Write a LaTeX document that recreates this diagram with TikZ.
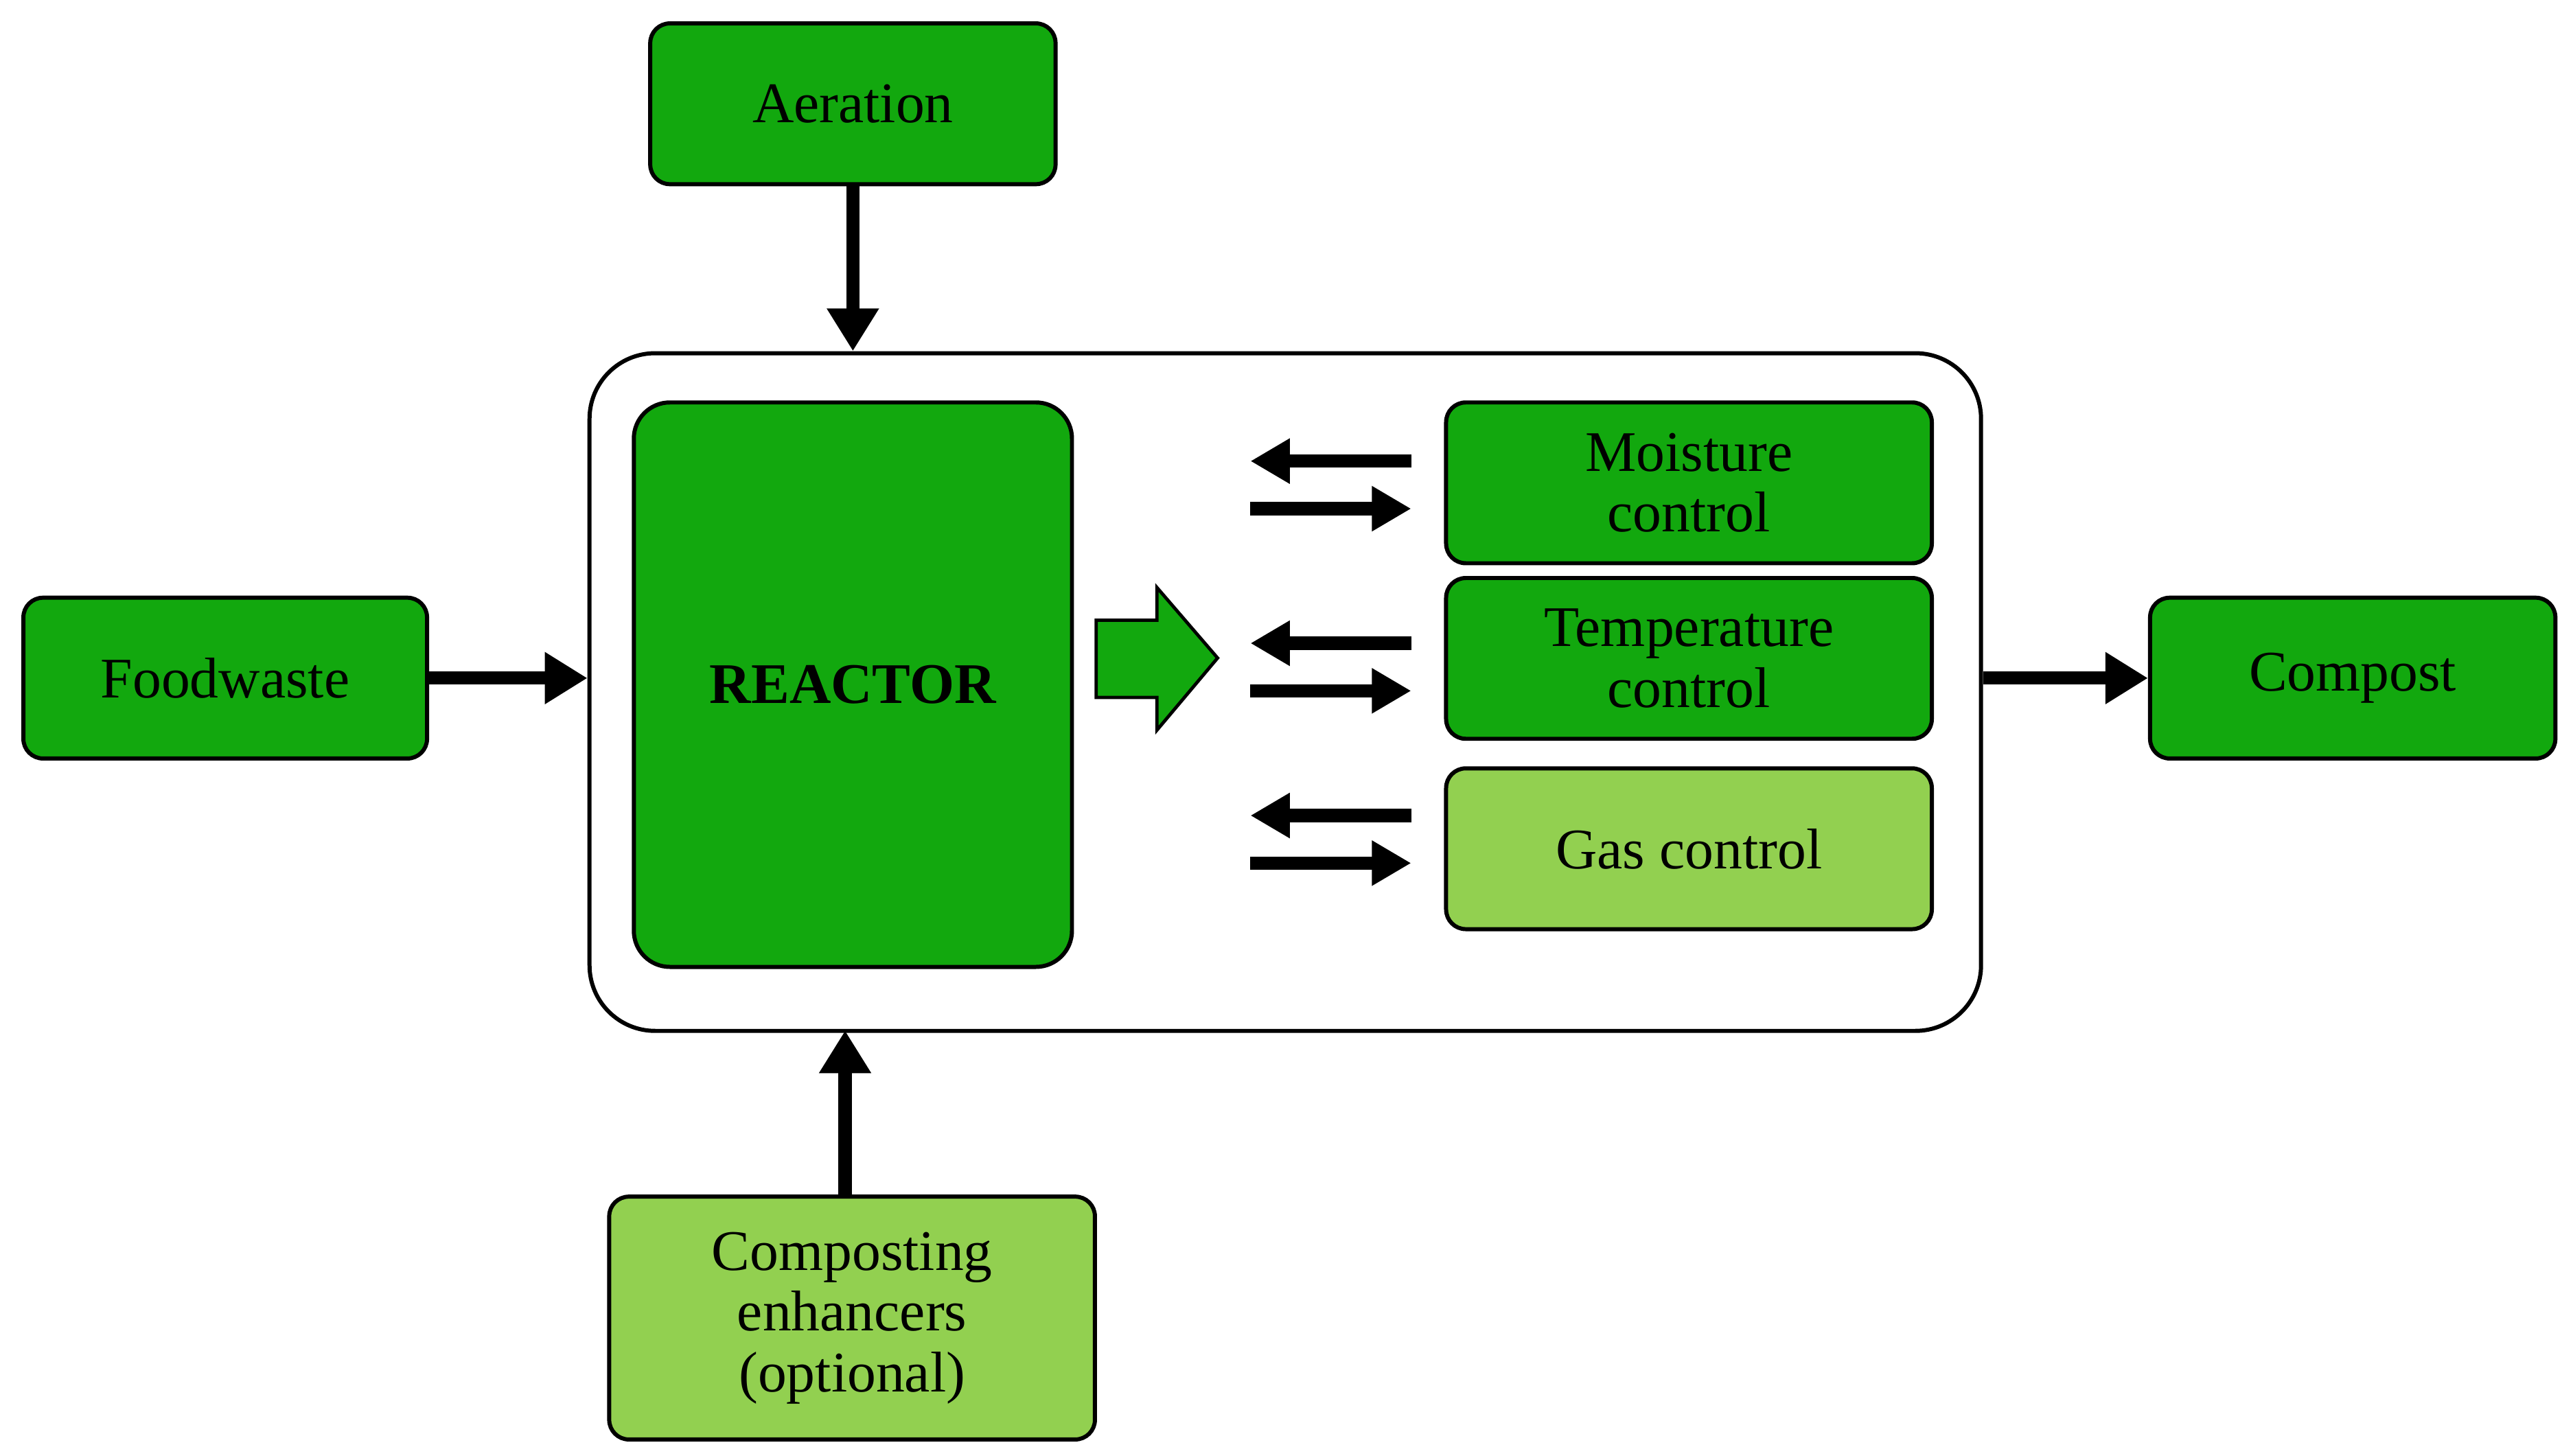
\documentclass[tikz,border=0pt]{standalone}
\usepackage{fontspec}
\setmainfont{Liberation Serif}
\usetikzlibrary{arrows.meta}
\definecolor{dg}{HTML}{12A80E}
\definecolor{lg}{HTML}{92D050}
\begin{document}
\begin{tikzpicture}[x=1pt,y=-1pt,
 box/.style={draw=black,line width=2.5pt,rounded corners=12pt,anchor=north west,inner sep=0pt,align=center,font=\fontsize{35}{37}\selectfont},
 arr/.style={line width=8pt,-{Triangle[length=26pt,width=30pt]}}]
\useasboundingbox (0,0) rectangle (1568,887);
\node[box,fill=dg,minimum width=247pt,minimum height=98pt] (aer) at (395,13) {Aeration};
\node[draw=black,line width=2.5pt,rounded corners=40pt,anchor=north west,minimum width=848pt,minimum height=413pt] (big) at (358,214) {};
\node[box,fill=dg,rounded corners=22pt,minimum width=267pt,minimum height=344pt,font=\fontsize{35}{37}\selectfont\bfseries] (re) at (385,244) {REACTOR};
\node[box,fill=dg,minimum width=296pt,minimum height=98pt] (mo) at (880,244) {Moisture\\control};
\node[box,fill=dg,minimum width=296pt,minimum height=98pt] (te) at (880,351) {Temperature\\control};
\node[box,fill=lg,minimum width=296pt,minimum height=98pt] (ga) at (880,467) {Gas control};
\node[box,fill=dg,minimum width=246pt,minimum height=98pt] (fw) at (13,363) {Foodwaste};
\node[box,fill=dg,minimum width=247pt,minimum height=98pt] (co) at (1309,363) {Compost};
\node[box,fill=lg,minimum width=296pt,minimum height=148pt] (en) at (370,728) {Composting\\enhancers\\(optional)};
\draw[arr] (aer.south) -- (aer.south |- big.north);
\draw[arr] (en.north -| 515,0) -- (515,628);
\draw[arr] (fw.east) -- (fw.east -| big.west);
\draw[arr] (big.east |- co.west) -- (co.west);
\draw[fill=dg,draw=black,line width=2pt] (668,378) -- (705,378) -- (705,358) -- (742,401) -- (705,445) -- (705,425) -- (668,425) -- cycle;
\foreach \y in {281,392,497}{
 \coordinate (l\y) at (860,\y);
 \coordinate (r\y) at (762,\y+29);
 \draw[arr,-{Triangle[length=24pt,width=26pt]}] (l\y) -- (762,\y);
 \draw[arr,-{Triangle[length=24pt,width=26pt]}] (r\y) -- (860,\y+29);
}
\end{tikzpicture}
\end{document}
